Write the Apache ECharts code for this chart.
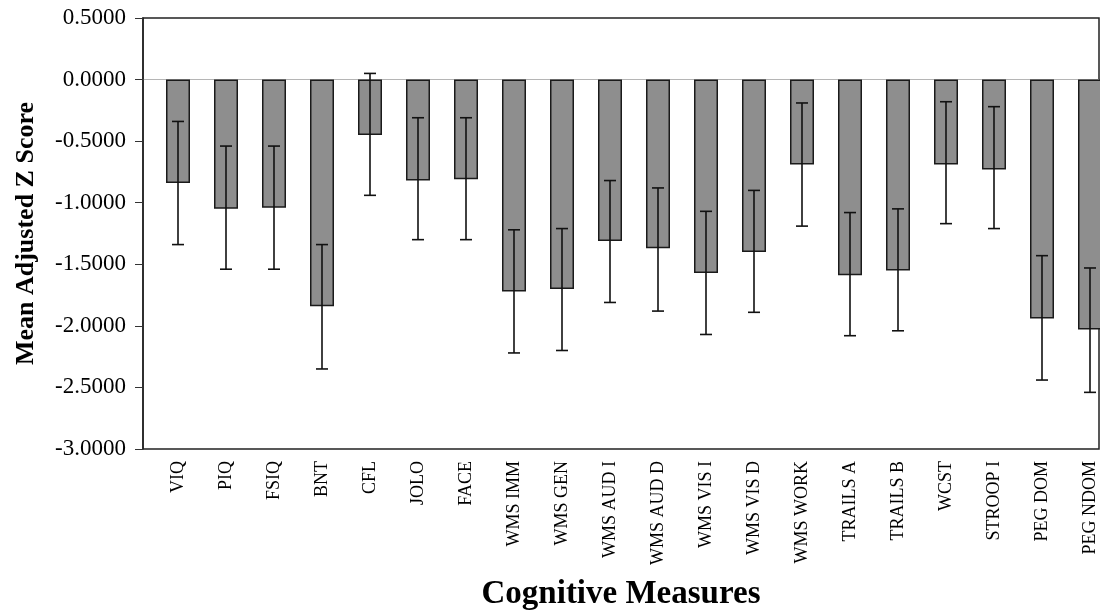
<!DOCTYPE html>
<html>
<head>
<meta charset="utf-8">
<script src="https://cdn.jsdelivr.net/npm/echarts@6/dist/echarts.min.js"></script>
<style>html,body{margin:0;padding:0;background:#fff}#c{width:1100px;height:616px}</style>
</head>
<body>
<div id="c"></div>
<script>
const categories = ['VIQ','PIQ','FSIQ','BNT','CFL','JOLO','FACE','WMS IMM','WMS GEN','WMS AUD I','WMS AUD D','WMS VIS I','WMS VIS D','WMS WORK','TRAILS A','TRAILS B','WCST','STROOP I','PEG DOM','PEG NDOM'];
const means = [-0.84,-1.05,-1.04,-1.84,-0.45,-0.82,-0.81,-1.72,-1.70,-1.31,-1.37,-1.57,-1.40,-0.69,-1.59,-1.55,-0.69,-0.73,-1.94,-2.03];
const errUpper = [-0.34,-0.54,-0.54,-1.34,0.05,-0.31,-0.31,-1.22,-1.21,-0.82,-0.88,-1.07,-0.90,-0.19,-1.08,-1.05,-0.18,-0.22,-1.43,-1.53];
const errLower = [-1.34,-1.54,-1.54,-2.35,-0.94,-1.30,-1.30,-2.22,-2.20,-1.81,-1.88,-2.07,-1.89,-1.19,-2.08,-2.04,-1.17,-1.21,-2.44,-2.54];
const yTicks = {min:-3, max:0.5, interval:0.5};

const serif = '"Liberation Serif", "Times New Roman", serif';
const chart = echarts.init(document.getElementById('c'));
const errData = categories.map((c,i)=>[i, errLower[i], errUpper[i]]);

chart.setOption({
  animation:false,
  backgroundColor:'#fff',
  grid:[
    {left:143, top:18, width:956, height:431, outerBoundsMode:'none', containLabel:false,
     show:true, borderColor:'#222', borderWidth:1.5, backgroundColor:'transparent'},
    {left:154, top:18, width:960, height:431, outerBoundsMode:'none', containLabel:false}
  ],
  xAxis:[
    {gridIndex:0, type:'value', min:0, max:1, show:true,
     axisLine:{show:false}, axisTick:{show:false}, axisLabel:{show:false}, splitLine:{show:false},
     name:'Cognitive Measures', nameLocation:'middle', nameGap:129,
     nameTextStyle:{fontFamily:serif, fontWeight:'bold', fontSize:33, color:'#000'}},
    {gridIndex:1, type:'category', data:categories,
     axisLine:{show:false}, axisTick:{show:false},
     axisLabel:{rotate:90, interval:0, fontFamily:serif, fontSize:18, color:'#000', margin:12}}
  ],
  yAxis:[
    {gridIndex:0, type:'value', min:yTicks.min, max:yTicks.max, interval:yTicks.interval,
     axisLine:{show:true, lineStyle:{color:'#222', width:1.5}},
     axisTick:{show:true, length:8, lineStyle:{color:'#333'}},
     axisLabel:{fontFamily:serif, fontSize:23, color:'#000', margin:17, formatter:v=>v.toFixed(4)},
     splitLine:{show:true, lineStyle:{width:1, color:['transparent','transparent','transparent','transparent','transparent','transparent','#b5b5b5','transparent']}},
     name:'Mean Adjusted Z Score', nameLocation:'middle', nameGap:104, nameRotate:90,
     nameTextStyle:{fontFamily:serif, fontWeight:'bold', fontSize:26, color:'#000'}},
    {gridIndex:1, type:'value', min:yTicks.min, max:yTicks.max, interval:yTicks.interval, show:false}
  ],
  series:[
    {type:'bar', xAxisIndex:1, yAxisIndex:1, data:means, barWidth:24,
     itemStyle:{color:'#8e8e8e', borderColor:'#1a1a1a', borderWidth:1.5}},
    {type:'custom', xAxisIndex:1, yAxisIndex:1, data:errData, z:5,
     renderItem:(params, api)=>{
       const x = api.value(0);
       const lo = api.coord([x, api.value(1)]);
       const hi = api.coord([x, api.value(2)]);
       const hw = 6;
       const st = {stroke:'#111', lineWidth:1.6};
       return {type:'group', children:[
         {type:'line', shape:{x1:lo[0], y1:lo[1], x2:hi[0], y2:hi[1]}, style:st},
         {type:'line', shape:{x1:lo[0]-hw, y1:lo[1], x2:lo[0]+hw, y2:lo[1]}, style:st},
         {type:'line', shape:{x1:hi[0]-hw, y1:hi[1], x2:hi[0]+hw, y2:hi[1]}, style:st}
       ]};
     }}
  ]
});
</script>
</body>
</html>
